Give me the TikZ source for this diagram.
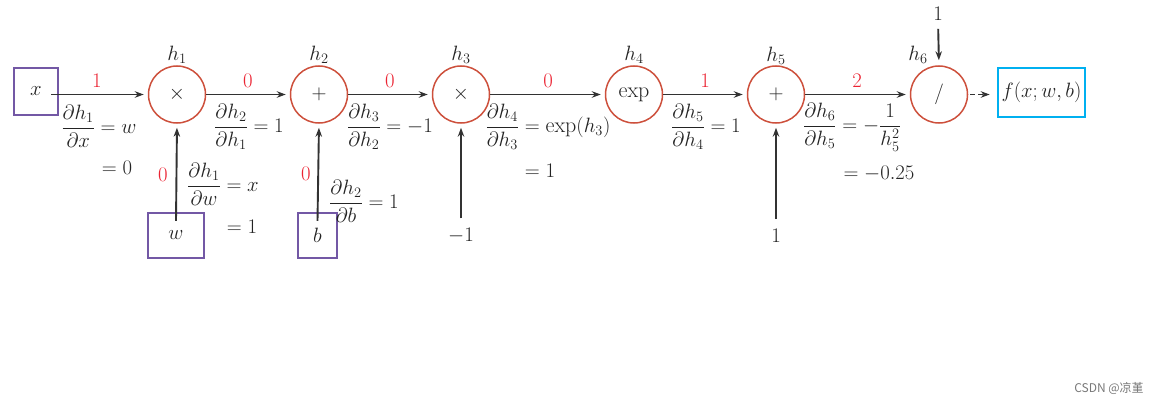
\documentclass[tikz,border=0pt]{standalone}
\usepackage{amsmath}
\usepackage{fontspec}
\newfontfamily\cjk{Noto Sans CJK SC}
\usetikzlibrary{arrows.meta}
\definecolor{nodered}{RGB}{205,80,60}
\definecolor{lblred}{RGB}{235,35,50}
\definecolor{boxpurple}{RGB}{115,88,165}
\definecolor{boxcyan}{RGB}{0,176,240}
\definecolor{edgegray}{RGB}{50,50,50}
\definecolor{txtgray}{RGB}{35,35,35}
\definecolor{wmgray}{RGB}{120,120,120}
\begin{document}
\begin{tikzpicture}[x=1pt,y=-1pt,
  font=\fontsize{22}{26}\selectfont,
  every node/.style={text=txtgray},
  op/.style={circle, draw=nodered, line width=1.5pt, minimum size=57pt, inner sep=0pt},
  inbox/.style={draw=boxpurple, line width=2.4pt, inner sep=0pt},
  outbox/.style={draw=boxcyan, line width=2.6pt, inner sep=0pt},
  edge/.style={draw=edgegray, line width=1.9pt, -{Stealth[length=9pt,width=6.5pt]}},
  grad/.style={text=lblred, inner sep=0pt},
  deriv/.style={inner sep=0pt},
  hlab/.style={inner sep=0pt}]
\useasboundingbox (0,0) rectangle (1159,404);

% operation nodes
\node[op] (h1) at (177,94.5) {$\times$};
\node[op] (h2) at (319,94.5) {$+$};
\node[op] (h3) at (461,94.5) {$\times$};
\node[op] (h4) at (634,94.5) {$\exp$};
\node[op] (h5) at (776,94.5) {$+$};
\node[op] (h6) at (939,94.5) {$/$};

% node names
\node[hlab] (l1) at (177,55) {$h_1$};
\node[hlab] (l2) at (319,55) {$h_2$};
\node[hlab] (l3) at (461,55) {$h_3$};
\node[hlab] (l4) at (634,55) {$h_4$};
\node[hlab] (l5) at (776,56) {$h_5$};
\node[hlab] (l6) at (918,55) {$h_6$};

% inputs and output
\node[inbox, minimum width=44pt, minimum height=47pt] (x) at (36,91.5) {$x$};
\node[inbox, minimum width=56pt, minimum height=45pt] (w) at (176,235.5) {$w$};
\node[inbox, minimum width=39pt, minimum height=45pt] (b) at (317.5,235.5) {$b$};
\node[outbox, minimum width=87pt, minimum height=49pt] (f) at (1041.5,92.5) {$f(x;w,b)$};
\node[inner sep=0pt] (m1) at (461,236) {$-1$};
\node[inner sep=0pt] (p1) at (776,236) {$1$};
\node[inner sep=0pt] (t1) at (938,14) {$1$};

% connectors
\draw[edge, shorten >=4pt] ([xshift=-8pt]x.east |- h1) -- (h1.west);
\draw[edge, shorten >=4pt] (h1.east) -- (h2.west);
\draw[edge, shorten >=4pt] (h2.east) -- (h3.west);
\draw[edge, shorten >=4pt] (h3.east) -- (h4.west);
\draw[edge, shorten >=4pt] (h4.east) -- (h5.west);
\draw[edge, shorten >=4pt] (h5.east) -- (h6.west);
\draw[edge, shorten >=4pt] ([yshift=-9pt]w.north) -- (h1.south);
\draw[edge, shorten >=4pt] ([yshift=-9pt]b.north) -- (h2.south);
\draw[edge, shorten >=4pt, shorten <=10pt] (m1.north) -- (h3.south);
\draw[edge, shorten >=4pt, shorten <=10pt] (p1.north) -- (h5.south);
\draw[edge, shorten >=5pt, shorten <=8pt] (t1.south) -- (h6.north);
\draw[edge, dash pattern=on 5pt off 3pt, shorten >=7pt, shorten <=2pt] (h6.east) -- (f.west |- h6);

% gradient values (red)
\node[grad] (g1) at (97,81) {$1$};
\node[grad] (g2) at (248,81) {$0$};
\node[grad] (g3) at (390,81) {$0$};
\node[grad] (g4) at (548,81) {$0$};
\node[grad] (g5) at (705,81) {$1$};
\node[grad] (g6) at (857,81) {$2$};
\node[grad] (g7) at (163,175) {$0$};
\node[grad] (g8) at (306,174) {$0$};

% local derivatives
\node[deriv] (d1) at (99,126) {$\dfrac{\partial h_1}{\partial x}=w$};
\node[deriv] (e1) at (117,168) {$=0$};
\node[deriv] (d2) at (249,127) {$\dfrac{\partial h_2}{\partial h_1}=1$};
\node[deriv] (d3) at (390,127) {$\dfrac{\partial h_3}{\partial h_2}=-1$};
\node[deriv] (d4) at (548,127) {$\dfrac{\partial h_4}{\partial h_3}=\exp(h_3)$};
\node[deriv] (e4) at (540,171) {$=1$};
\node[deriv] (d5) at (706,127) {$\dfrac{\partial h_5}{\partial h_4}=1$};
\node[deriv] (d6) at (852,127) {$\dfrac{\partial h_6}{\partial h_5}=-\dfrac{1}{h_5^2}$};
\node[deriv] (e6) at (879,174) {$=-0.25$};
\node[deriv] (dw) at (223,184) {$\dfrac{\partial h_1}{\partial w}=x$};
\node[deriv] (ew) at (242,227) {$=1$};
\node[deriv] (db) at (364,201) {$\dfrac{\partial h_2}{\partial b}=1$};

% watermark
\node[text=wmgray, inner sep=0pt, font=\cjk\fontsize{12}{14}\selectfont] (wm) at (1109,388) {CSDN @凉堇};
\end{tikzpicture}
\end{document}
